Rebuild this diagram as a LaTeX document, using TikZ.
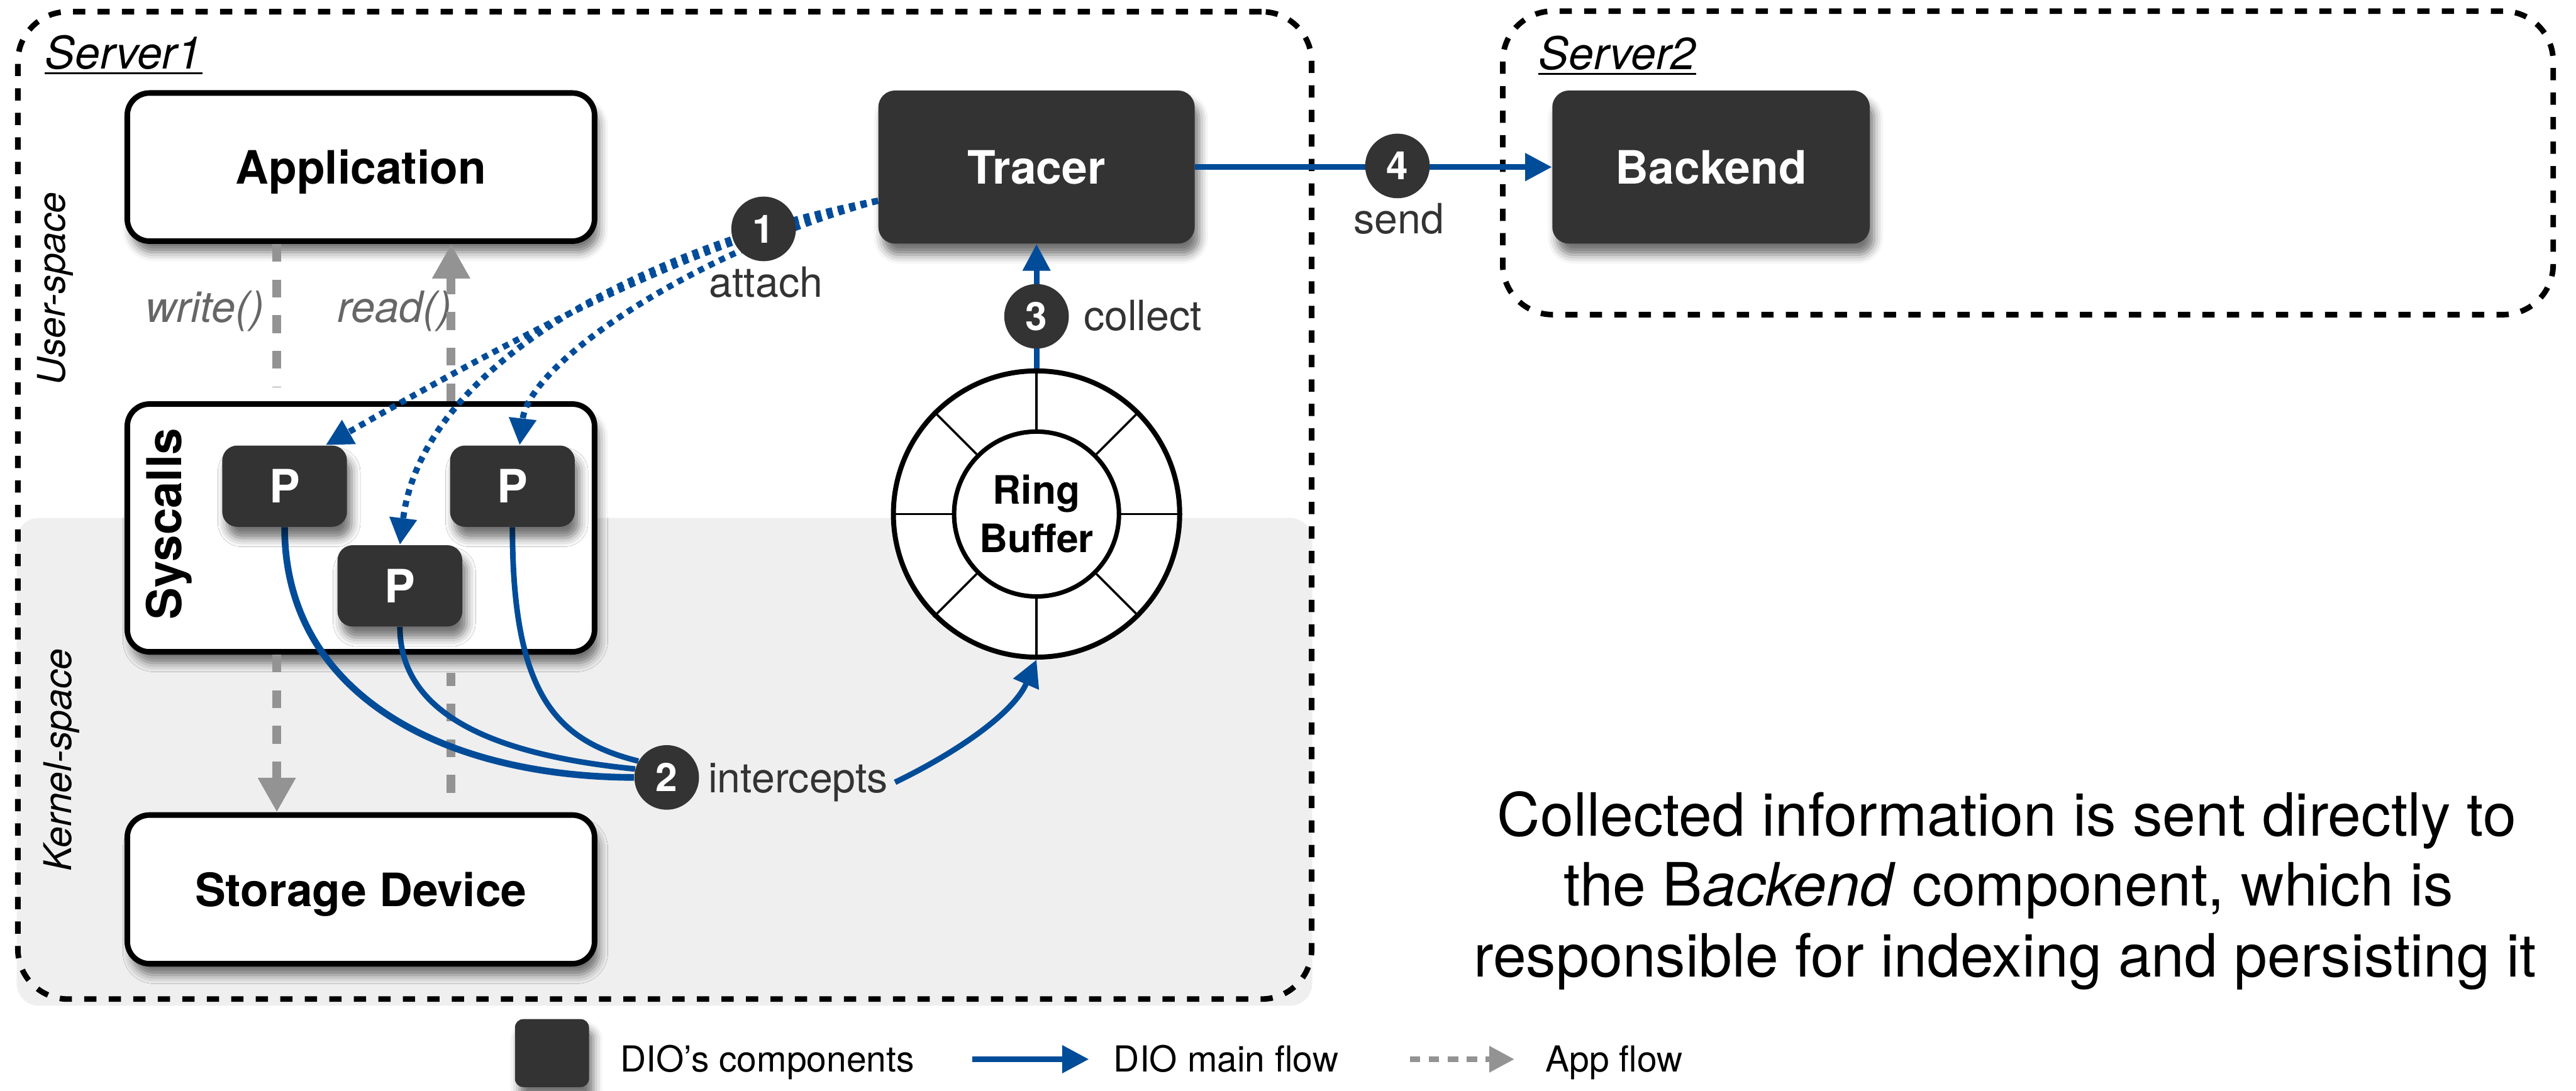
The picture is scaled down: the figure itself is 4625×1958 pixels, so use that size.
\documentclass[tikz,border=0pt]{standalone}
\usepackage{fontspec}
\setmainfont{TeX Gyre Heros}
\usetikzlibrary{arrows.meta,calc,shadows.blur}

\definecolor{dioblue}{HTML}{004C99}
\definecolor{diodark}{HTML}{333333}
\definecolor{kernelgray}{HTML}{EFEFEF}
\definecolor{appgray}{HTML}{939393}
\definecolor{callgray}{HTML}{666666}

\newcommand\setfs[1]{\fontsize{#1pt}{#1pt}\selectfont}

\begin{document}
\begin{tikzpicture}[
  x=0.1mm, y=-0.1mm,
  softshadow/.style={blur shadow={shadow xshift=0.8mm, shadow yshift=-2mm,
      shadow blur radius=1.6mm, shadow opacity=55}},
  whitebox/.style={draw=black, line width=1mm, fill=white, rounded corners=4mm,
      softshadow, inner sep=0, text depth=0pt, font=\setfs{23.5}\bfseries},
  darkbox/.style={fill=diodark, rounded corners=3mm, softshadow, text=white,
      inner sep=0, text depth=0pt, font=\setfs{23.5}\bfseries},
  pshape/.style={rounded corners=2.7mm, minimum width=22.4mm, minimum height=14.6mm, inner sep=0},
  pbox/.style={darkbox, pshape},
  dotshape/.style={circle, minimum size=11.6mm, inner sep=0},
  numdot/.style={dotshape, fill=diodark, text=white, font=\setfs{20}\bfseries},
  % same outline as a later node, nothing drawn: lets links be laid under it
  placeholder/.style={draw=none, fill=none},
  serverbox/.style={draw=black, line width=1mm, dash pattern=on 2.2mm off 2.2mm,
      rounded corners=9mm, inner sep=0},
  lbl/.style={inner sep=0, text=diodark, font=\setfs{21.3}},
  calllbl/.style={inner sep=0, text=callgray, font=\setfs{22}\itshape},
  spacelbl/.style={inner sep=0, rotate=90, anchor=base, font=\setfs{19.5}\itshape},
  mainflow/.style={draw=dioblue, line width=1mm, -{Triangle[length=4.8mm,width=4.8mm]}},
  bluecurve/.style={draw=dioblue, line width=1mm},
  attachflow/.style={draw=dioblue, line width=1.1mm, dash pattern=on 1.1mm off 1mm,
      -{Triangle[length=4.8mm,width=4.7mm]}},
  appflow/.style={draw=appgray, line width=1.6mm, dash pattern=on 3.2mm off 3.2mm},
  apptip/.style={-{Triangle[length=6.2mm,width=6.4mm]}},
  captxt/.style={inner sep=0, anchor=base, font=\setfs{30.5}},
  legtxt/.style={inner sep=0, anchor=base west, font=\setfs{18.3}}
]
\useasboundingbox (0,0) rectangle (4625,1958);

% kernel-space band
\fill[kernelgray, rounded corners=4mm] (30,930) rectangle (2356,1806);

% the two servers
\node[serverbox, minimum width=232.3mm, minimum height=177.3mm] (server1) at (1193.5,907.5) {};
\node[serverbox, minimum width=188.6mm, minimum height=54.5mm] (server2) at (3641,292.5) {};
\node[inner sep=0, anchor=base west, font=\setfs{23}\itshape] (s1lab) at (80,124) {Server1};
\draw[line width=0.35mm] ([yshift=-0.8mm]s1lab.base west) -- ([yshift=-0.8mm]s1lab.base east);
\node[inner sep=0, anchor=base west, font=\setfs{23}\itshape] (s2lab) at (2762,125) {Server2};
\draw[line width=0.35mm] ([yshift=-0.8mm]s2lab.base west) -- ([yshift=-0.8mm]s2lab.base east);

% space labels
\node[spacelbl] (uspace) at (117,518) {User-space};
\node[spacelbl] (kspace) at (128,1365) {Kernel-space};

% application stack
\node[whitebox, minimum width=83.9mm, minimum height=26.6mm] (app) at (648,300) {Application};
\node[whitebox, minimum width=83.9mm, minimum height=44.5mm] (sys) at (648,948) {};
\node[inner sep=0, rotate=90, anchor=base, font=\setfs{24.5}\bfseries] (syslab) at (326,941) {Syscalls};
\node[whitebox, minimum width=83.9mm, minimum height=26.7mm] (stor) at (648,1597) {Storage Device};

% DIO components
\node[darkbox, minimum width=56.8mm, minimum height=27.5mm] (tracer) at (1861,300) {Tracer};
\node[darkbox, minimum width=57mm, minimum height=27.5mm] (backend) at (3072,300) {Backend};

% ring buffer
\node[circle, draw=black, line width=0.9mm, fill=white, minimum size=51.4mm, inner sep=0] (rbout) at (1861,923) {};
\node[circle, draw=black, line width=0.8mm, fill=white, minimum size=29.6mm, inner sep=0,
      align=center, font=\fontsize{20pt}{24.7pt}\selectfont\bfseries] (rbin) at (rbout.center) {Ring\\Buffer};
\foreach \a in {0,45,...,315}
  \draw[line width=0.4mm] (rbin.\a) -- (rbout.\a);

% outlines of the probes and step markers, for the links to attach to
\node[pshape, placeholder] (p1) at (511,873) {};
\node[pshape, placeholder] (p2) at (920,873) {};
\node[pshape, placeholder] (p3) at (718,1052) {};
\node[dotshape, placeholder] (c1) at (1371,411) {};
\node[dotshape, placeholder] (c2) at (1197,1396) {};
\node[dotshape, placeholder] (c3) at (1861,568) {};
\node[dotshape, placeholder] (c4) at (2509,298) {};

\node[lbl, anchor=base] (attachlab) at (1375,533) {attach};
\node[lbl, anchor=base west] (intlab) at (1271,1423) {intercepts};
\node[lbl, anchor=base west] (collab) at (1945,593) {collect};
\node[lbl, anchor=base] (sendlab) at (2512,420) {send};

% application read/write path
\coordinate (wcol) at (497,0);
\coordinate (rcol) at (810,0);
\node[calllbl, anchor=base east] (writelab) at (475,579) {write()};
\node[calllbl, anchor=base west] (readlab) at (605,579) {read()};

\draw[appflow, shorten >=2.6mm] (app.south -| wcol) -- (sys.north -| wcol);
\draw[appflow, apptip] (sys.south -| wcol) -- (stor.north -| wcol);
\draw[appflow, shorten <=3.5mm, shorten >=3.3mm] (stor.north -| rcol) -- (sys.south -| rcol);
\draw[appflow, apptip] (sys.north -| rcol) -- (app.south -| rcol);

% DIO flow
\draw[attachflow] (tracer.192) .. controls (1250,420) and (830,660) .. (p1.45);
\draw[attachflow] (tracer.192) .. controls (1200,430) and (760,640) .. (p3.north);
\draw[attachflow] (tracer.192) .. controls (1250,450) and (950,650) .. (p2.80);
\draw[bluecurve, line width=1.2mm] (p1.south) .. controls (511,1250) and (800,1395) .. (c2.180);
\draw[bluecurve] (p3.south) .. controls (718,1280) and (880,1355) .. (c2.165);
\draw[bluecurve] (p2.south) .. controls (920,1250) and (1000,1330) .. (c2.150);
\draw[mainflow] ([xshift=1.2mm]intlab.east) .. controls (1720,1350) and (1820,1280) .. (rbout.south);
\draw[mainflow] (rbout.north) -- (tracer.south);
\draw[mainflow] (tracer.east) -- (backend.west);

% probes and step markers on top of the links
\node[pbox] (p1) at (511,873) {P};
\node[pbox] (p2) at (920,873) {P};
\node[pbox] (p3) at (718,1052) {P};
\node[numdot] (c1) at (1371,411) {1};
\node[numdot] (c2) at (1197,1396) {2};
\node[numdot] (c3) at (1861,568) {3};
\node[numdot] (c4) at (2509,298) {4};

% caption
\node[captxt] (cap1) at (3603,1501) {Collected information is sent directly to};
\node[captxt] (cap2) at (3606,1627) {the B\textit{ackend} component, which is};
\node[captxt] (cap3) at (3600,1754) {responsible for indexing and persisting it};

% legend
\node[darkbox, rounded corners=1.5mm, minimum width=13.3mm, minimum height=12.2mm] (legbox) at (991,1891) {};
\node[legtxt] (legcomp) at (1113,1925) {DIO’s components};
\coordinate (lgA1) at (1746,1902);
\coordinate (lgA2) at (1955,1902);
\draw[mainflow, line width=1mm] (lgA1) -- (lgA2);
\node[legtxt] (legmain) at (1999,1925) {DIO main flow};
\coordinate (lgB1) at (2531,1902);
\coordinate (lgB2) at (2719,1902);
\draw[appflow, line width=1mm, dash pattern=on 1.9mm off 1.5mm,
      -{Triangle[length=4.5mm,width=4.5mm]}] (lgB1) -- (lgB2);
\node[legtxt] (legapp) at (2774,1925) {App flow};
\end{tikzpicture}
\end{document}
